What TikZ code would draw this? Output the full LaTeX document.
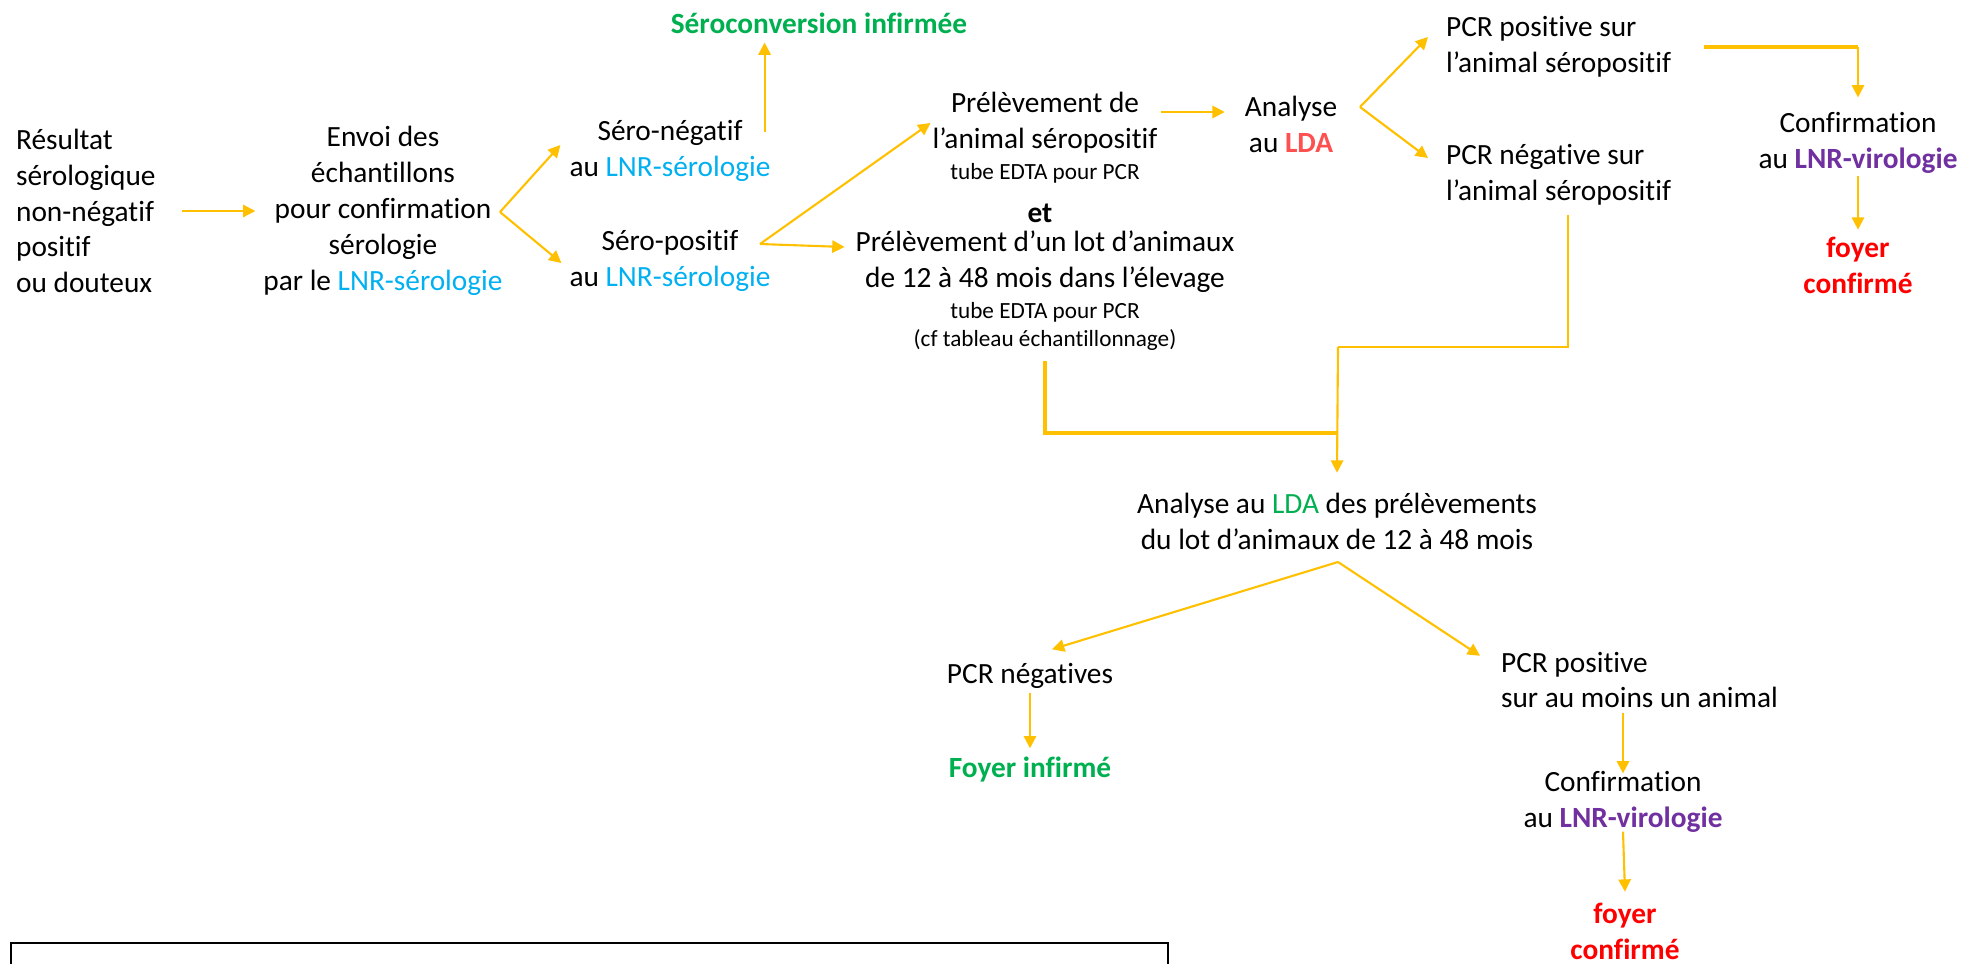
\documentclass[tikz,border=0pt]{standalone}
\usepackage{fontspec}
\setmainfont{Carlito}[Ligatures={NoCommon}]
\usetikzlibrary{arrows.meta,calc}

\definecolor{gold}{HTML}{FFC000}
\definecolor{lnrblue}{HTML}{00B0F0}
\definecolor{okgreen}{HTML}{00B050}
\definecolor{ldared}{HTML}{FF5050}
\definecolor{foyred}{HTML}{FF0000}
\definecolor{viropurple}{HTML}{7030A0}

\newcommand{\bigtxt}{\fontsize{16.7pt}{20.4pt}\selectfont}
\newcommand{\smalltxt}{\fontsize{13.2pt}{15.9pt}\selectfont}
\newcommand{\lnrsero}{\textcolor{lnrblue}{LNR-sérologie}}
\newcommand{\lnrviro}{\textcolor{viropurple}{\textbf{LNR-virologie}}}

\tikzset{
  txt/.style={align=center, inner sep=1pt, font=\bigtxt},
  ltxt/.style={align=left, inner sep=1pt, font=\bigtxt, anchor=west},
  note/.style={align=center, inner sep=1pt, font=\smalltxt},
  okres/.style={txt, font=\bigtxt\bfseries, text=okgreen},
  badres/.style={txt, font=\bigtxt\bfseries, text=foyred},
  arr/.style={draw=gold, line width=1.2pt, -{Triangle[length=7pt,width=7pt]}},
  ln/.style={draw=gold, line width=1.2pt},
  thickln/.style={draw=gold, line width=2.8pt},
}

\begin{document}
\begin{tikzpicture}[x=0.02cm, y=-0.02cm]
    \useasboundingbox (0,0) rectangle (1979,964);

    \node[ltxt] (res) at (14,211) {Résultat\\sérologique\\non-négatif\\positif\\ou douteux};
    \node[txt] (envoi) at (383,211) {Envoi des\\échantillons\\pour confirmation\\sérologie\\par le \lnrsero};
    \node[txt] (seroneg) at (670,151) {Séro-négatif\\au \lnrsero};
    \node[txt] (seropos) at (670,261) {Séro-positif\\au \lnrsero};
    \node[okres] (sercon) at (819,23) {Séroconversion infirmée};

    \node[txt] (prel1) at (1045,123) {Prélèvement de\\l’animal séropositif};
    \node[note] (note1) at (1045,173) {tube EDTA pour PCR};
    \node[txt, font=\bigtxt\bfseries] (et) at (1040,213) {et};
    \node[txt] (prel2) at (1045,262) {Prélèvement d’un lot d’animaux\\de 12 à 48 mois dans l’élevage};
    \node[note] (note2) at (1045,326) {tube EDTA pour PCR\\(cf tableau échantillonnage)};

    \node[txt] (analyse) at (1291,124) {Analyse\\au \textcolor{ldared}{\textbf{LDA}}};
    \node[ltxt] (pcrpos1) at (1444,47) {PCR positive sur\\l’animal séropositif};
    \node[ltxt] (pcrneg1) at (1444,175) {PCR négative sur\\l’animal séropositif};
    \node[txt] (conf1) at (1858,143) {Confirmation\\au \lnrviro};
    \node[badres] (foyer1) at (1858,265) {foyer\\confirmé};

    \node[txt] (analyse2) at (1337,521) {Analyse au \textcolor{okgreen}{LDA} des prélèvements\\du lot d’animaux de 12 à 48 mois};
    \node[txt] (pcrneg2) at (1030,676) {PCR négatives};
    \node[okres] (foyerinf) at (1030,770) {Foyer infirmé};
    \node[ltxt] (pcrpos2) at (1499,680) {PCR positive\\sur au moins un animal};
    \node[txt] (conf2) at (1623,802) {Confirmation\\au \lnrviro};
    \node[badres] (foyer2) at (1625,931) {foyer\\confirmé};

    \coordinate (f1) at (500,212);
    \coordinate (f2) at (760,244);
    \coordinate (f4) at (1360,107);
    \coordinate (j2) at (1338,347);
    \coordinate (j3) at (1338,433);
    \coordinate (f5) at (1338,562);

    \draw[arr] ($(res.east)+(24,0)$) -- ($(envoi.west)+(-6,0)$);
    \draw[arr] (f1) -- ($(seroneg.west)+(-7,-6)$);
    \draw[arr] (f1) -- ($(seropos.west)+(-6,2)$);
    \draw[arr] ($(seroneg.north east)+(-8,14)$) -- ($(seroneg.north east |- sercon.south)+(-8,7)$);

    \draw[arr] (f2) -- (prel1.west);
    \draw[arr] (f2) -- ($(prel2.west)+(-9,-15)$);
    \draw[arr] ($(prel1.east)+(1,-11)$) -- ($(analyse.west)+(-18,-12)$);

    \draw[arr] (f4) -- ($(pcrpos1.west)+(-16,-10)$);
    \draw[arr] (f4) -- ($(pcrneg1.west)+(-16,-17)$);
    \draw[thickln] ($(pcrpos1.east)+(31,0)$) -- (conf1.north |- pcrpos1.east) coordinate (j1);
    \draw[arr] (j1) -- ($(conf1.north)+(0,-13)$);
    \draw[arr] (conf1.south) -- ($(foyer1.north)+(0,-5)$);

    \draw[ln] ($(pcrneg1.south)+(9,8)$) |- (j2);
    \draw[thickln] ($(note2.south)+(0,9)$) |- (j3);
    \draw[arr] (j2) -- ($(analyse2.north)+(0,-18)$);

    \draw[arr] (f5) -- ($(pcrneg2.north)+(22,-12)$);
    \draw[arr] (f5) -- ($(pcrpos2.north west)+(-19,6)$);
    \draw[arr] ($(pcrneg2.south)+(0,2)$) -- ($(foyerinf.north)+(0,-7)$);
    \draw[arr] ($(pcrpos2.south -| conf2.north)+(0,3)$) -- ($(conf2.north)+(0,4)$);
    \draw[arr] ($(conf2.south)+(0,-3)$) -- ($(foyer2.north)+(0,-9)$);

    \draw[line width=1.3pt] (11,990) |- (1168,943) -- (1168,990);
\end{tikzpicture}
\end{document}
